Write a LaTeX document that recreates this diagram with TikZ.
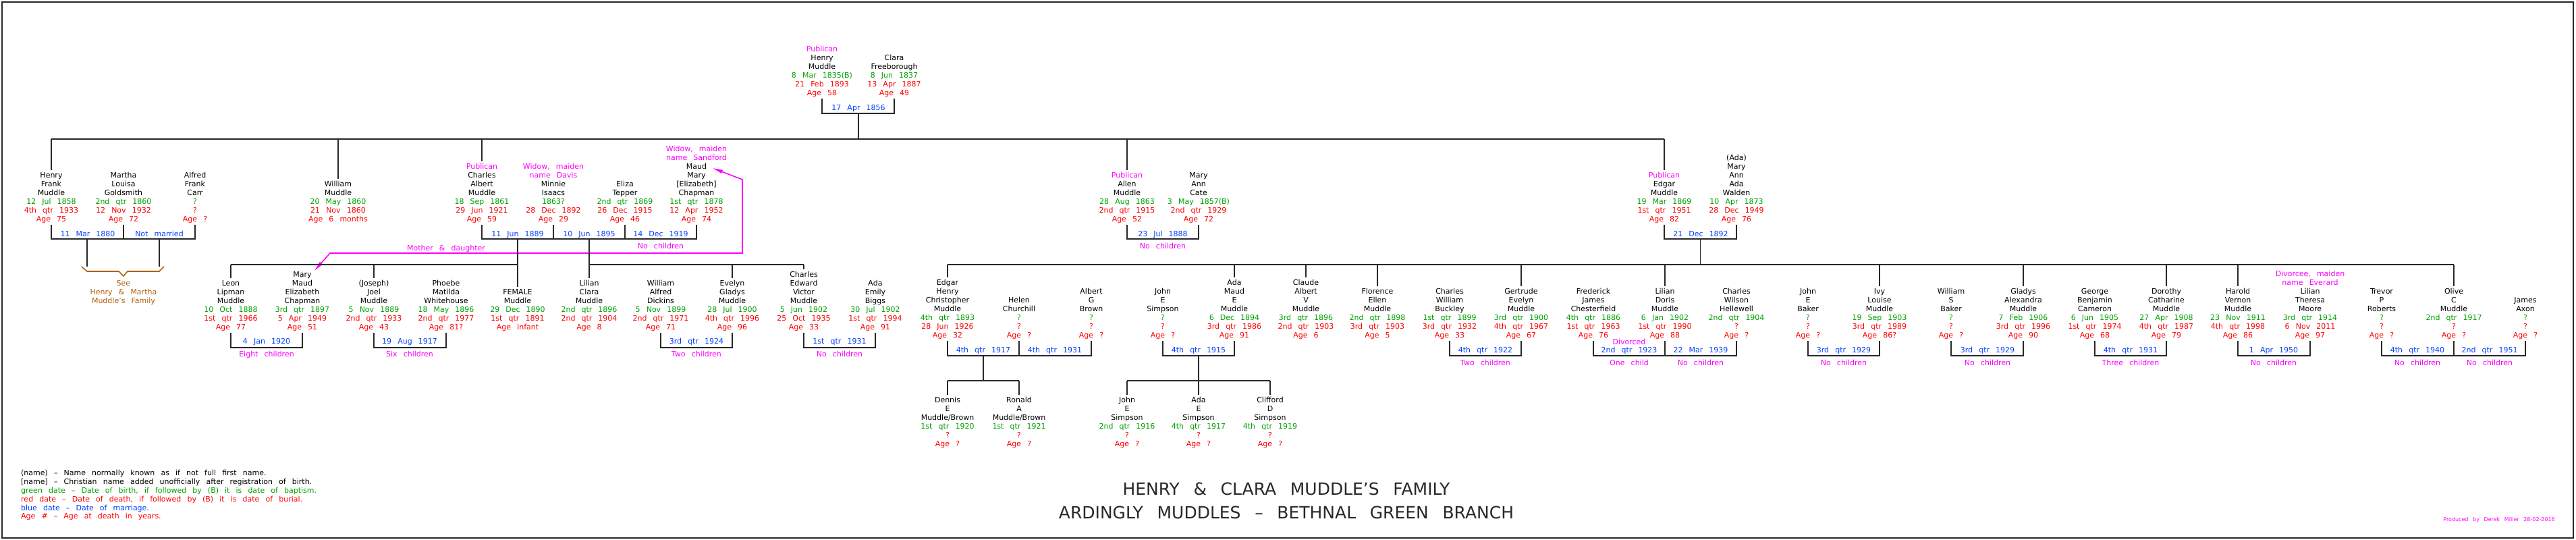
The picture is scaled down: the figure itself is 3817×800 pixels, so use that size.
\documentclass[tikz,border=0pt]{standalone}
\usepackage{fontspec}
\setmainfont{DejaVu Sans}[WordSpace=2.6]
\usetikzlibrary{arrows.meta}
\definecolor{cG}{RGB}{0,160,0}
\definecolor{cR}{RGB}{255,0,0}
\definecolor{cB}{RGB}{0,64,255}
\definecolor{cM}{RGB}{255,0,255}
\definecolor{cBr}{RGB}{176,96,16}
\definecolor{cL}{RGB}{40,40,40}
\newcommand\gtx[1]{\textcolor{cG}{#1}}
\newcommand\rtx[1]{\textcolor{cR}{#1}}
\newcommand\mtx[1]{\textcolor{cM}{#1}}
\tikzset{
  per/.style={align=center,inner sep=0pt,anchor=south,font=\fontsize{11}{13}\selectfont},
  lab/.style={inner sep=0pt,anchor=base,font=\fontsize{11}{13}\selectfont},
  ttl/.style={inner sep=0pt,anchor=base,font=\fontsize{25}{30}\selectfont,text=cL},
  ln/.style={line width=1.8pt,draw=cL},
  dn/.style={ln,shorten >=3pt},
  mgl/.style={line width=1.6pt,draw=cM},
  brn/.style={line width=1.6pt,draw=cBr},
  frame/.style={line width=1.8pt,draw=cL}
}
\newcommand\pers[4]{\node[per] (#1) at (#2,#3+8) {\strut#4\strut};}
\newcommand\lab[5]{\node[lab,text=#2] (#1) at (#3,#4+4) {#5};}
\newcommand\wed[3]{\draw[ln] (#1.south) -- (#1.south|-#3) -- (#2.south|-#3) -- (#2.south);}
\newcommand\stem[2]{\draw[ln] (#1.south) -- (#1.south|-#2);}
\begin{document}
\begin{tikzpicture}[x=1pt,y=-1pt]
\useasboundingbox (0,0) rectangle (3817,800);
\draw[frame] (3,3) rectangle (3813,797);
\coordinate (r1) at (0,206);
\coordinate (b0) at (0,168);
\coordinate (b2) at (0,354);
\coordinate (r3) at (0,392);
\coordinate (b3l) at (0,515);
\coordinate (b3r) at (0,527);
\coordinate (r4) at (0,564);

% ---------- generation 1
\pers{henry}{1218}{138}{\mtx{Publican}\\Henry\\Muddle\\\gtx{8 Mar 1835(B)}\\\rtx{21 Feb 1893}\\\rtx{Age 58}}
\pers{clara}{1325}{138}{Clara\\Freeborough\\\gtx{8 Jun 1837}\\\rtx{13 Apr 1887}\\\rtx{Age 49}}
\wed{henry}{clara}{b0}
\lab{m0}{cB}{1272}{159}{17 Apr 1856}
\coordinate (d0) at (1272,168);
\draw[ln] (d0) -- (d0|-r1);

% ---------- generation 2
\pers{hf}{76}{325}{Henry\\Frank\\Muddle\\\gtx{12 Jul 1858}\\\rtx{4th qtr 1933}\\\rtx{Age 75}}
\pers{mlg}{183}{325}{Martha\\Louisa\\Goldsmith\\\gtx{2nd qtr 1860}\\\rtx{12 Nov 1932}\\\rtx{Age 72}}
\pers{afc}{289}{325}{Alfred\\Frank\\Carr\\\gtx{?}\\\rtx{?}\\\rtx{Age ?}}
\pers{wm}{501}{325}{William\\Muddle\\\gtx{20 May 1860}\\\rtx{21 Nov 1860}\\\rtx{Age 6 months}}
\pers{cam}{714}{325}{\mtx{Publican}\\Charles\\Albert\\Muddle\\\gtx{18 Sep 1861}\\\rtx{29 Jun 1921}\\\rtx{Age 59}}
\pers{mi}{820}{325}{\mtx{Widow, maiden}\\\mtx{name Davis}\\Minnie\\Isaacs\\\gtx{1863?}\\\rtx{28 Dec 1892}\\\rtx{Age 29}}
\pers{et}{926}{325}{Eliza\\Tepper\\\gtx{2nd qtr 1869}\\\rtx{26 Dec 1915}\\\rtx{Age 46}}
\pers{mm}{1032}{325}{\mtx{Widow, maiden}\\\mtx{name Sandford}\\Maud\\Mary\\{[Elizabeth]}\\Chapman\\\gtx{1st qtr 1878}\\\rtx{12 Apr 1952}\\\rtx{Age 74}}
\pers{am}{1670}{325}{\mtx{Publican}\\Allen\\Muddle\\\gtx{28 Aug 1863}\\\rtx{2nd qtr 1915}\\\rtx{Age 52}}
\pers{mac}{1776}{325}{Mary\\Ann\\Cate\\\gtx{3 May 1857(B)}\\\rtx{2nd qtr 1929}\\\rtx{Age 72}}
\pers{em}{2466}{325}{\mtx{Publican}\\Edgar\\Muddle\\\gtx{19 Mar 1869}\\\rtx{1st qtr 1951}\\\rtx{Age 82}}
\pers{maw}{2573}{325}{(Ada)\\Mary\\Ann\\Ada\\Walden\\\gtx{10 Apr 1873}\\\rtx{28 Dec 1949}\\\rtx{Age 76}}

\draw[ln] (hf.north|-r1) -- (em.north|-r1);
\foreach \n in {hf,wm,cam,am,em} \draw[dn] (\n.north|-r1) -- (\n.north);

\wed{hf}{afc}{b2} \stem{mlg}{b2}
\lab{m1}{cB}{130}{346}{11 Mar 1880}
\lab{m2}{cB}{236}{346}{Not married}
\wed{cam}{mm}{b2} \stem{mi}{b2} \stem{et}{b2}
\lab{m3}{cB}{767}{346}{11 Jun 1889}
\lab{m4}{cB}{873}{346}{10 Jun 1895}
\lab{m5}{cB}{979}{346}{14 Dec 1919}
\lab{n5}{cM}{979}{364}{No children}
\wed{am}{mac}{b2}
\lab{m6}{cB}{1723}{346}{23 Jul 1888}
\lab{n6}{cM}{1723}{364}{No children}
\wed{em}{maw}{b2}
\lab{m7}{cB}{2520}{346}{21 Dec 1892}

% descents to the brace
\coordinate (d1) at (129,354); \coordinate (d1e) at (129,395);
\coordinate (d2) at (236,354); \coordinate (d2e) at (236,395);
\draw[ln] (d1) -- (d1e);
\draw[ln] (d2) -- (d2e);
\draw[brn] (121,395) -- (129,402) -- (176,402) -- (183,409) -- (189,402) -- (236,402) -- (243,395);
\node[per,text=cBr] (see) at (183,446+8) {\strut See\\Henry \& Martha\\Muddle's Family\strut};

% mother & daughter connector
\coordinate (pkA) at (1056,249);
\coordinate (pk1) at (1100,266);
\coordinate (pk2) at (1100,375);
\coordinate (pk3) at (489,375);
\coordinate (pkB) at (466,401);
\draw[mgl,{Triangle[length=15pt,width=5pt,fill=cM]}-{Triangle[length=15pt,width=5pt,fill=cM]}] (pkA) -- (pk1) -- (pk2) -- (pk3) -- (pkB);
\lab{md}{cM}{661}{367}{Mother \& daughter}

% ---------- generation 3 (left)
\pers{ll}{342}{485}{Leon\\Lipman\\Muddle\\\gtx{10 Oct 1888}\\\rtx{1st qtr 1966}\\\rtx{Age 77}}
\pers{mmec}{448}{485}{Mary\\Maud\\Elizabeth\\Chapman\\\gtx{3rd qtr 1897}\\\rtx{5 Apr 1949}\\\rtx{Age 51}}
\pers{jjm}{554}{485}{(Joseph)\\Joel\\Muddle\\\gtx{5 Nov 1889}\\\rtx{2nd qtr 1933}\\\rtx{Age 43}}
\pers{pmw}{661}{485}{Phoebe\\Matilda\\Whitehouse\\\gtx{18 May 1896}\\\rtx{2nd qtr 1977}\\\rtx{Age 81?}}
\pers{fem}{767}{485}{FEMALE\\Muddle\\\gtx{29 Dec 1890}\\\rtx{1st qtr 1891}\\\rtx{Age Infant}}
\pers{lcm}{873}{485}{Lilian\\Clara\\Muddle\\\gtx{2nd qtr 1896}\\\rtx{2nd qtr 1904}\\\rtx{Age 8}}
\pers{wad}{979}{485}{William\\Alfred\\Dickins\\\gtx{5 Nov 1899}\\\rtx{2nd qtr 1971}\\\rtx{Age 71}}
\pers{egm}{1085}{485}{Evelyn\\Gladys\\Muddle\\\gtx{28 Jul 1900}\\\rtx{4th qtr 1996}\\\rtx{Age 96}}
\pers{cevm}{1191}{485}{Charles\\Edward\\Victor\\Muddle\\\gtx{5 Jun 1902}\\\rtx{25 Oct 1935}\\\rtx{Age 33}}
\pers{aeb}{1297}{485}{Ada\\Emily\\Biggs\\\gtx{30 Jul 1902}\\\rtx{1st qtr 1994}\\\rtx{Age 91}}

\coordinate (d3) at (767,354);
\draw[ln] (d3) -- (d3|-r3);
\draw[ln] (ll.north|-r3) -- (fem.north|-r3);
\foreach \n in {ll,jjm,fem} \draw[dn] (\n.north|-r3) -- (\n.north);
\coordinate (d4) at (873,354);
\draw[ln] (d4) -- (d4|-r3);
\draw[ln] (lcm.north|-r3) -- (cevm.north|-r3);
\foreach \n in {lcm,egm,cevm} \draw[dn] (\n.north|-r3) -- (\n.north);

\wed{ll}{mmec}{b3l}
\lab{m8}{cB}{395}{505}{4 Jan 1920}
\lab{n8}{cM}{395}{524}{Eight children}
\wed{jjm}{pmw}{b3l}
\lab{m9}{cB}{607}{505}{19 Aug 1917}
\lab{n9}{cM}{607}{524}{Six children}
\wed{wad}{egm}{b3l}
\lab{m10}{cB}{1032}{505}{3rd qtr 1924}
\lab{n10}{cM}{1032}{524}{Two children}
\wed{cevm}{aeb}{b3l}
\lab{m11}{cB}{1244}{505}{1st qtr 1931}
\lab{n11}{cM}{1244}{524}{No children}

% ---------- generation 3 (right)
\pers{ehcm}{1404}{497}{Edgar\\Henry\\Christopher\\Muddle\\\gtx{4th qtr 1893}\\\rtx{28 Jun 1926}\\\rtx{Age 32}}
\pers{hc}{1510}{497}{Helen\\Churchill\\\gtx{?}\\\rtx{?}\\\rtx{Age ?}}
\pers{agb}{1617}{497}{Albert\\G\\Brown\\\gtx{?}\\\rtx{?}\\\rtx{Age ?}}
\pers{jes}{1723}{497}{John\\E\\Simpson\\\gtx{?}\\\rtx{?}\\\rtx{Age ?}}
\pers{amem}{1829}{497}{Ada\\Maud\\E\\Muddle\\\gtx{6 Dec 1894}\\\rtx{3rd qtr 1986}\\\rtx{Age 91}}
\pers{cavm}{1935}{497}{Claude\\Albert\\V\\Muddle\\\gtx{3rd qtr 1896}\\\rtx{2nd qtr 1903}\\\rtx{Age 6}}
\pers{fem2}{2041}{497}{Florence\\Ellen\\Muddle\\\gtx{2nd qtr 1898}\\\rtx{3rd qtr 1903}\\\rtx{Age 5}}
\pers{cwb}{2148}{497}{Charles\\William\\Buckley\\\gtx{1st qtr 1899}\\\rtx{3rd qtr 1932}\\\rtx{Age 33}}
\pers{gem}{2254}{497}{Gertrude\\Evelyn\\Muddle\\\gtx{3rd qtr 1900}\\\rtx{4th qtr 1967}\\\rtx{Age 67}}
\pers{fjc}{2361}{497}{Frederick\\James\\Chesterfield\\\gtx{4th qtr 1886}\\\rtx{1st qtr 1963}\\\rtx{Age 76}}
\pers{ldm}{2467}{497}{Lilian\\Doris\\Muddle\\\gtx{6 Jan 1902}\\\rtx{1st qtr 1990}\\\rtx{Age 88}}
\pers{cwh}{2573}{497}{Charles\\Wilson\\Hellewell\\\gtx{2nd qtr 1904}\\\rtx{?}\\\rtx{Age ?}}
\pers{jeb}{2679}{497}{John\\E\\Baker\\\gtx{?}\\\rtx{?}\\\rtx{Age ?}}
\pers{ilm}{2785}{497}{Ivy\\Louise\\Muddle\\\gtx{19 Sep 1903}\\\rtx{3rd qtr 1989}\\\rtx{Age 86?}}
\pers{wsb}{2891}{497}{William\\S\\Baker\\\gtx{?}\\\rtx{?}\\\rtx{Age ?}}
\pers{gam}{2998}{497}{Gladys\\Alexandra\\Muddle\\\gtx{7 Feb 1906}\\\rtx{3rd qtr 1996}\\\rtx{Age 90}}
\pers{gbc}{3104}{497}{George\\Benjamin\\Cameron\\\gtx{6 Jun 1905}\\\rtx{1st qtr 1974}\\\rtx{Age 68}}
\pers{dcm}{3210}{497}{Dorothy\\Catharine\\Muddle\\\gtx{27 Apr 1908}\\\rtx{4th qtr 1987}\\\rtx{Age 79}}
\pers{hvm}{3316}{497}{Harold\\Vernon\\Muddle\\\gtx{23 Nov 1911}\\\rtx{4th qtr 1998}\\\rtx{Age 86}}
\pers{ltm}{3423}{497}{\mtx{Divorcee, maiden}\\\mtx{name Everard}\\Lilian\\Theresa\\Moore\\\gtx{3rd qtr 1914}\\\rtx{6 Nov 2011}\\\rtx{Age 97}}
\pers{tpr}{3529}{497}{Trevor\\P\\Roberts\\\gtx{?}\\\rtx{?}\\\rtx{Age ?}}
\pers{ocm}{3636}{497}{Olive\\C\\Muddle\\\gtx{2nd qtr 1917}\\\rtx{?}\\\rtx{Age ?}}
\pers{ja}{3742}{497}{James\\Axon\\\gtx{?}\\\rtx{?}\\\rtx{Age ?}}

\coordinate (d5) at (2519.5,354);
\draw[ln] (d5) -- (d5|-r3);
\draw[ln] (ehcm.north|-r3) -- (ocm.north|-r3);
\foreach \n in {ehcm,amem,cavm,fem2,gem,ldm,ilm,gam,dcm,hvm,ocm} \draw[dn] (\n.north|-r3) -- (\n.north);

\wed{ehcm}{agb}{b3r} \stem{hc}{b3r}
\lab{m12}{cB}{1457}{518}{4th qtr 1917}
\lab{m13}{cB}{1563}{518}{4th qtr 1931}
\wed{jes}{amem}{b3r}
\lab{m14}{cB}{1776}{518}{4th qtr 1915}
\wed{cwb}{gem}{b3r}
\lab{m15}{cB}{2201}{518}{4th qtr 1922}
\lab{n15}{cM}{2201}{537}{Two children}
\wed{fjc}{cwh}{b3r} \stem{ldm}{b3r}
\lab{dv}{cM}{2414}{506}{Divorced}
\lab{m16}{cB}{2414}{518}{2nd qtr 1923}
\lab{m17}{cB}{2520}{518}{22 Mar 1939}
\lab{n16}{cM}{2414}{537}{One child}
\lab{n17}{cM}{2520}{537}{No children}
\wed{jeb}{ilm}{b3r}
\lab{m18}{cB}{2732}{518}{3rd qtr 1929}
\lab{n18}{cM}{2732}{537}{No children}
\wed{wsb}{gam}{b3r}
\lab{m19}{cB}{2945}{518}{3rd qtr 1929}
\lab{n19}{cM}{2945}{537}{No children}
\wed{gbc}{dcm}{b3r}
\lab{m20}{cB}{3157}{518}{4th qtr 1931}
\lab{n20}{cM}{3157}{537}{Three children}
\wed{hvm}{ltm}{b3r}
\lab{m21}{cB}{3369}{518}{1 Apr 1950}
\lab{n21}{cM}{3369}{537}{No children}
\wed{tpr}{ja}{b3r} \stem{ocm}{b3r}
\lab{m22}{cB}{3582}{518}{4th qtr 1940}
\lab{m23}{cB}{3689}{518}{2nd qtr 1951}
\lab{n22}{cM}{3582}{537}{No children}
\lab{n23}{cM}{3689}{537}{No children}

% ---------- generation 4
\pers{deb}{1404}{658}{Dennis\\E\\Muddle/Brown\\\gtx{1st qtr 1920}\\\rtx{?}\\\rtx{Age ?}}
\pers{ramb}{1510}{658}{Ronald\\A\\Muddle/Brown\\\gtx{1st qtr 1921}\\\rtx{?}\\\rtx{Age ?}}
\pers{jes2}{1670}{658}{John\\E\\Simpson\\\gtx{2nd qtr 1916}\\\rtx{?}\\\rtx{Age ?}}
\pers{aes}{1776}{658}{Ada\\E\\Simpson\\\gtx{4th qtr 1917}\\\rtx{?}\\\rtx{Age ?}}
\pers{cds}{1882}{658}{Clifford\\D\\Simpson\\\gtx{4th qtr 1919}\\\rtx{?}\\\rtx{Age ?}}
\coordinate (d6) at (1457,527);
\draw[ln] (d6) -- (d6|-r4);
\draw[ln] (deb.north|-r4) -- (ramb.north|-r4);
\foreach \n in {deb,ramb} \draw[dn] (\n.north|-r4) -- (\n.north);
\coordinate (d7) at (1776,527);
\draw[ln] (d7) -- (d7|-r4);
\draw[ln] (jes2.north|-r4) -- (cds.north|-r4);
\foreach \n in {jes2,aes,cds} \draw[dn] (\n.north|-r4) -- (\n.north);

% ---------- title, legend, credit
\node[ttl] (t1) at (1906,733) {HENRY \& CLARA MUDDLE'S FAMILY};
\node[ttl] (t2) at (1906,768) {ARDINGLY MUDDLES – BETHNAL GREEN BRANCH};
\node[lab,anchor=base west,text=black] (lg1) at (31,704) {(name) – Name normally known as if not full first name.};
\node[lab,anchor=base west,text=black] (lg2) at (31,717) {[name] – Christian name added unofficially after registration of birth.};
\node[lab,anchor=base west,text=cG] (lg3) at (31,730) {green date – Date of birth, if followed by (B) it is date of baptism.};
\node[lab,anchor=base west,text=cR] (lg4) at (31,743) {red date – Date of death, if followed by (B) it is date of burial.};
\node[lab,anchor=base west,text=cB] (lg5) at (31,756) {blue date – Date of marriage.};
\node[lab,anchor=base west,text=cR] (lg6) at (31,768) {Age \# – Age at death in years.};
\node[lab,anchor=base east,text=cM,font=\fontsize{8}{10}\selectfont] (cred) at (3786,772) {Produced by Derek Miller 28-02-2016};
\end{tikzpicture}
\end{document}
